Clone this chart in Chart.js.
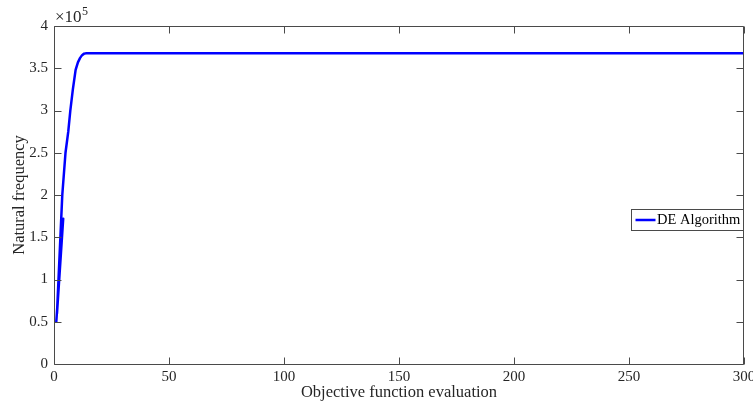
<!DOCTYPE html>
<html>
<head>
<meta charset="utf-8">
<script src="https://cdn.jsdelivr.net/npm/chart.js@4.4.1/dist/chart.umd.min.js"></script>
<style>
  html, body { margin: 0; padding: 0; background: #ffffff; }
  #wrap { width: 753px; height: 407px; position: relative; }
</style>
</head>
<body>
<div id="wrap"><canvas id="c" width="753" height="407"></canvas></div>
<script>
// ---- data ----
const seriesLabel = 'DE Algorithm';
const xEval = [1, 4, 1.3, 3.6, 5.0, 6.2, 7.1, 8.2, 9.4, 10.4, 11.3, 12.2, 13.1, 14.1, 300];
const yFreq = [50000, 172000, 60000, 200000, 250000, 275000, 300000, 325000, 348000, 357000, 362000, 365500, 367300, 367800, 367800];
const xTickValues = [0, 50, 100, 150, 200, 250, 300];
const yTickLabels = ['0', '0.5', '1', '1.5', '2', '2.5', '3', '3.5', '4'];
const xTitle = 'Objective function evaluation';
const yTitle = 'Natural frequency';
const exponentText = '\u00d710';
const exponentPower = '5';

const FONT = 'Liberation Serif';
const AX = '#4a4a4a';
const TXT = '#262626';

const points = xEval.map((x, i) => ({ x: x, y: yFreq[i] }));

const boxPlugin = {
  id: 'matlabBox',
  afterDatasetsDraw(chart) {
    const ctx = chart.ctx;
    const a = chart.chartArea;
    const xs = chart.scales.x, ys = chart.scales.y;
    const L = Math.round(a.left) + 0.5, R = Math.round(a.right) - 0.5;
    const T = Math.round(a.top) + 0.5, B = Math.round(a.bottom) + 0.5;
    ctx.save();
    ctx.strokeStyle = AX;
    ctx.lineWidth = 1;
    ctx.beginPath();
    ctx.rect(L, T, R - L, B - T);
    const tl = 7;
    xTickValues.forEach(v => {
      const px = Math.round(xs.getPixelForValue(v)) + 0.5;
      ctx.moveTo(px, B); ctx.lineTo(px, B - tl);
      ctx.moveTo(px, T); ctx.lineTo(px, T + tl);
    });
    yTickLabels.forEach((lab, i) => {
      const py = Math.round(ys.getPixelForValue(i * 50000)) + 0.5;
      ctx.moveTo(L, py); ctx.lineTo(L + tl, py);
      ctx.moveTo(R, py); ctx.lineTo(R - tl, py);
    });
    ctx.stroke();

    // exponent label
    ctx.fillStyle = TXT;
    ctx.textBaseline = 'alphabetic';
    ctx.textAlign = 'left';
    ctx.font = '17px "' + FONT + '"';
    ctx.fillText(exponentText, L + 0.5, 22);
    const w = ctx.measureText(exponentText).width;
    ctx.font = '12px "' + FONT + '"';
    ctx.fillText(exponentPower, L + 0.5 + w + 0.5, 15);

    // legend
    const ds = chart.data.datasets[0];
    const bx = 631.5, by = 209.5, bw = 112, bh = 21;
    ctx.fillStyle = '#ffffff';
    ctx.fillRect(bx, by, bw, bh);
    ctx.strokeStyle = AX;
    ctx.lineWidth = 1;
    ctx.strokeRect(bx, by, bw, bh);
    ctx.strokeStyle = ds.borderColor;
    ctx.lineWidth = 2.5;
    ctx.beginPath();
    ctx.moveTo(bx + 4, by + bh / 2);
    ctx.lineTo(bx + 24, by + bh / 2);
    ctx.stroke();
    ctx.fillStyle = '#000000';
    ctx.font = '14.5px "' + FONT + '"';
    ctx.textBaseline = 'middle';
    ctx.fillText(ds.label, bx + 25.5, by + bh / 2 + 0.5);
    ctx.restore();
  }
};

new Chart(document.getElementById('c'), {
  type: 'scatter',
  data: {
    datasets: [{
      label: seriesLabel,
      data: points,
      showLine: true,
      borderColor: '#0000ff',
      backgroundColor: '#0000ff',
      borderWidth: 2.5,
      pointRadius: 0,
      tension: 0,
      borderJoinStyle: 'round',
      borderCapStyle: 'round'
    }]
  },
  options: {
    responsive: false,
    animation: false,
    devicePixelRatio: 1,
    layout: { padding: { left: 0, right: 9, top: 26, bottom: 0 } },
    plugins: { legend: { display: false }, tooltip: { enabled: false } },
    scales: {
      x: {
        type: 'linear',
        min: 0, max: 300,
        afterBuildTicks: s => { s.ticks = xTickValues.map(v => ({ value: v })); },
        afterFit: s => { s.height = 43; s.paddingLeft = 0; s.paddingRight = 0; },
        grid: { display: false, drawTicks: false },
        border: { display: false },
        ticks: {
          color: TXT, padding: 4, maxRotation: 0, autoSkip: false,
          font: { family: FONT, size: 15 },
          callback: v => String(v)
        },
        title: {
          display: true, text: xTitle, color: TXT,
          font: { family: FONT, size: 16.5 },
          padding: { top: 0, bottom: 4 }
        }
      },
      y: {
        type: 'linear',
        min: 0, max: 400000,
        afterBuildTicks: s => { s.ticks = yTickLabels.map((l, i) => ({ value: i * 50000 })); },
        afterFit: s => { s.width = 54; s.paddingTop = 0; s.paddingBottom = 0; },
        grid: { display: false, drawTicks: false },
        border: { display: false },
        ticks: {
          color: TXT, padding: 6, autoSkip: false,
          font: { family: FONT, size: 15 },
          callback: (v, i) => yTickLabels[i]
        },
        title: {
          display: true, text: yTitle, color: TXT,
          font: { family: FONT, size: 16.5 },
          padding: { top: 10, bottom: 0 }
        }
      }
    }
  },
  plugins: [boxPlugin]
});
</script>
</body>
</html>
